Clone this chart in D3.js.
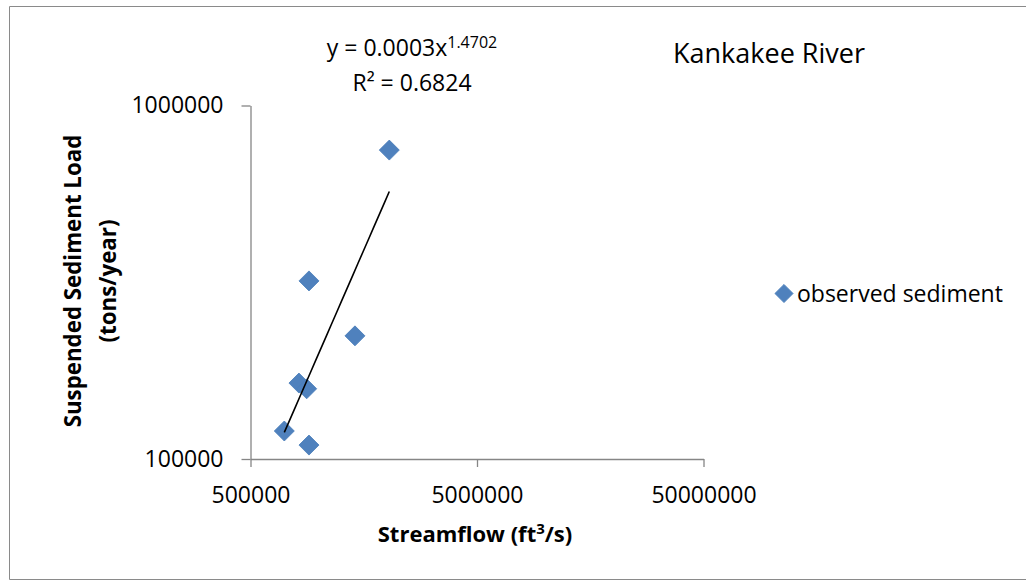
<!DOCTYPE html>
<html>
<head>
<meta charset="utf-8">
<script src="https://cdn.jsdelivr.net/npm/d3@7/dist/d3.min.js"></script>
<style>
  html, body { margin: 0; padding: 0; background: #ffffff; overflow: hidden; }
  svg { display: block; }
  text { font-family: "Open Sans", "Noto Sans", sans-serif; fill: #000; }
</style>
</head>
<body>
<svg id="chart" width="1026" height="582"></svg>
<script>
// Annual streamflow vs. suspended sediment load, Kankakee River
const streamflow = [2050000, 906000, 1446000, 818000, 885000, 705000, 906000];
const sediment   = [748000, 319000, 223000, 164000, 158000, 120000, 109500];

// Power-law fit  y = a * x^b
const fitCoef = 0.0003;
const fitExp = 1.4702;
const fitR2 = 0.6824;

const xTicks = [500000, 5000000, 50000000];
const yTicks = [100000, 1000000];

const chartTitle = "Kankakee River";
const xTitle = ["Streamflow (ft", "3", "/s)"];
const yTitle = ["Suspended Sediment Load", "(tons/year)"];
const seriesName = "observed sediment";

const svg = d3.select("#chart");
const markerColor = "#4F81BD";
const axisColor = "#868686";

// chart area border (continues past the right edge of the view)
svg.append("path")
  .attr("d", "M1040,6.5 H9.5 V579.5 H1040")
  .attr("fill", "none")
  .attr("stroke", "#8a8a8a")
  .attr("stroke-width", 1);

const x = d3.scaleLog().domain([xTicks[0], xTicks[xTicks.length - 1]]).range([250.5, 703.5]);
const y = d3.scaleLog().domain([yTicks[0], yTicks[yTicks.length - 1]]).range([459, 105.5]);

// x axis
const gx = svg.append("g").attr("transform", `translate(0,${y.range()[0]})`)
  .call(d3.axisBottom(x).tickValues(xTicks).tickFormat(d3.format("d")).tickSize(8).tickSizeOuter(0).tickPadding(20));
gx.select(".domain").attr("stroke", axisColor).attr("stroke-width", 1.3);
gx.selectAll(".tick line").attr("stroke", axisColor).attr("stroke-width", 1.3);
gx.selectAll(".tick text").attr("font-size", 23).attr("font-family", "Open Sans").attr("fill", "#000");

// y axis
const gy = svg.append("g").attr("transform", `translate(${x.range()[0]},0)`)
  .call(d3.axisLeft(y).tickValues(yTicks).tickFormat(d3.format("d")).tickSize(9).tickSizeOuter(0).tickPadding(18));
gy.select(".domain").attr("stroke", axisColor).attr("stroke-width", 1.3);
gy.selectAll(".tick line").attr("stroke", axisColor).attr("stroke-width", 1.3);
gy.selectAll(".tick text").attr("font-size", 23).attr("font-family", "Open Sans").attr("fill", "#000");

// data points
const pts = streamflow.map((v, i) => ({ q: v, s: sediment[i] }));
const diamond = d3.symbol().type(d3.symbolSquare).size(200);
svg.append("g").selectAll("path").data(pts).join("path")
  .attr("d", diamond)
  .attr("transform", d => `translate(${x(d.q)},${y(d.s)}) rotate(45)`)
  .attr("fill", markerColor)
  .attr("stroke", "#4a7ebb")
  .attr("stroke-width", 0.8);

// power trendline across the observed streamflow range
const qMin = d3.min(streamflow), qMax = d3.max(streamflow);
const trend = d3.range(0, 21).map(i => {
  const q = qMin * Math.pow(qMax / qMin, i / 20);
  return { q, s: fitCoef * Math.pow(q, fitExp) };
});
svg.append("path")
  .datum(trend)
  .attr("d", d3.line().x(d => x(d.q)).y(d => y(d.s)))
  .attr("fill", "none")
  .attr("stroke", "#000")
  .attr("stroke-width", 1.6);

// trendline equation
const eq = svg.append("text").attr("x", 412).attr("y", 55.5)
  .attr("text-anchor", "middle").attr("font-size", 23);
eq.append("tspan").text(`y = ${fitCoef}x`);
eq.append("tspan").attr("dy", -8).attr("font-size", 16).text(fitExp);
svg.append("text").attr("x", 412).attr("y", 91)
  .attr("text-anchor", "middle").attr("font-size", 23)
  .text(`R² = ${fitR2}`);

// chart title
svg.append("text").attr("x", 673).attr("y", 63.3)
  .attr("font-size", 27).text(chartTitle);

// axis titles
const xt = svg.append("text").attr("x", 475).attr("y", 542.3)
  .attr("text-anchor", "middle").attr("font-size", 22).attr("font-weight", "bold");
xt.append("tspan").text(xTitle[0]);
xt.append("tspan").attr("dy", -8).attr("font-size", 15).text(xTitle[1]);
xt.append("tspan").attr("dy", 8).text(xTitle[2]);

const yt = svg.append("g").attr("transform", "translate(0,281) rotate(-90)");
yt.append("text").attr("x", 0).attr("y", 81)
  .attr("text-anchor", "middle").attr("font-size", 22.3).attr("font-weight", "bold")
  .text(yTitle[0]);
yt.append("text").attr("x", 0).attr("y", 116)
  .attr("text-anchor", "middle").attr("font-size", 22.3).attr("font-weight", "bold")
  .text(yTitle[1]);

// legend
const lg = svg.append("g").attr("transform", "translate(784,293.5)");
lg.append("path").attr("d", d3.symbol().type(d3.symbolSquare).size(165))
  .attr("transform", "rotate(45)")
  .attr("fill", markerColor).attr("stroke", "#4a7ebb").attr("stroke-width", 0.8);
lg.append("text").attr("x", 13).attr("y", 8)
  .attr("font-size", 23).text(seriesName);
</script>
</body>
</html>
